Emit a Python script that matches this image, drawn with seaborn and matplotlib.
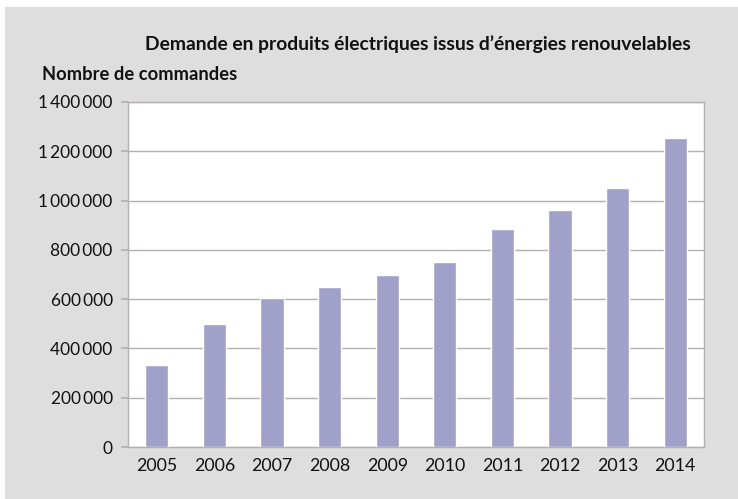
import matplotlib
matplotlib.use("Agg")
import matplotlib.pyplot as plt
import matplotlib.ticker as mticker
import pandas as pd
import seaborn as sns
from matplotlib.patches import Rectangle

years = ["2005", "2006", "2007", "2008", "2009", "2010", "2011", "2012", "2013", "2014"]
orders = [333000, 499000, 605000, 650000, 699000, 751000, 885000, 963000, 1053000, 1254000]
y_ticks = [0, 200000, 400000, 600000, 800000, 1000000, 1200000, 1400000]

title = "Demande en produits électriques issus d’énergies renouvelables"
y_label = "Nombre de commandes"

W, H = 738, 499
BG = "#dedede"
BAR = "#a0a0c8"
LINE = "#b4b0b0"

sns.set_theme(style="white")
plt.rcParams["font.family"] = ["Lato", "DejaVu Sans"]

df = pd.DataFrame({"year": years, "orders": orders})

fig = plt.figure(figsize=(W / 100, H / 100), dpi=100)
fig.patches.append(Rectangle((5 / W, 0), 1, 1 - 7 / H, transform=fig.transFigure,
                             facecolor=BG, edgecolor="none", zorder=-5))

left, right, top, bottom = 128, 704, 102, 447
ax = fig.add_axes([left / W, 1 - bottom / H, (right - left) / W, (bottom - top) / H])
ax.set_facecolor("white")

sns.barplot(df, x="year", y="orders", color=BAR, width=0.4, saturation=1, ax=ax, zorder=3)

ax.set_ylim(0, 1400000)
ax.set_yticks(y_ticks)
ax.yaxis.set_major_formatter(mticker.FuncFormatter(lambda v, p: f"{int(v):,}".replace(",", "\u2009")))
ax.grid(axis="y", color=LINE, linewidth=1, zorder=1)
ax.set_axisbelow(True)
for s in ax.spines.values():
    s.set_color(LINE)
    s.set_linewidth(1)
ax.tick_params(axis="y", length=5, color=LINE, labelsize=12.5, pad=6, left=True, labelcolor="#111111")
ax.tick_params(axis="x", length=0, labelsize=12.8, pad=8, labelcolor="#111111")
ax.set_xlabel("")
ax.set_ylabel("")

fig.text(418 / W, 1 - 44 / H, title, ha="center", va="center", fontsize=13.9, fontweight="bold", color="#111111")
fig.text(42 / W, 1 - 74 / H, y_label, ha="left", va="center", fontsize=13.2, fontweight="bold", color="#111111")

fig.savefig("out.png", dpi=100)
